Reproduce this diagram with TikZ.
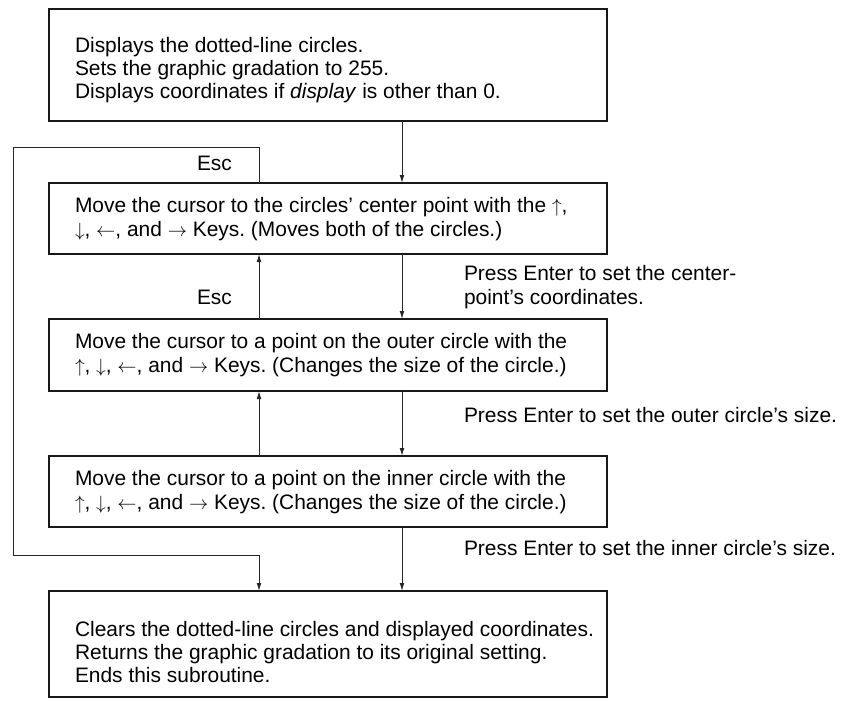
\documentclass[tikz,border=0pt]{standalone}
\usepackage{fontspec}
\setmainfont{Liberation Sans}
\usetikzlibrary{arrows.meta}
\frenchspacing

\begin{document}
\begin{tikzpicture}[x=0.75pt,y=-0.75pt,
  every node/.style={font=\fontsize{15.7pt}{17.5pt}\selectfont},
  stepbox/.style={draw=black!90, line width=0.8pt, anchor=north west, outer sep=0pt,
    inner sep=0pt, minimum width=418.5pt},
  steptext/.style={anchor=west, inner sep=0pt, outer sep=0pt, align=left},
  lbl/.style={inner sep=0pt, outer sep=0pt},
  flow/.style={draw=black!85, line width=0.75pt, -{Latex[length=6pt,width=3.6pt]}}]

\useasboundingbox (0,0) rectangle (849,700);

% process steps: frames
\node[stepbox, minimum height=84pt]    (init)   at (49,9)   {};
\node[stepbox, minimum height=53.25pt] (center) at (49,183) {};
\node[stepbox, minimum height=54pt]    (outer)  at (49,319) {};
\node[stepbox, minimum height=53.25pt] (inner)  at (49,456) {};
\node[stepbox, minimum height=79.5pt]  (finish) at (49,591) {};

% process steps: descriptions
\node[steptext] (initText) at (75,70)
  {Displays the dotted-line circles.\\
   Sets the graphic gradation to 255.\\
   Displays coordinates if \textit{display} is other than 0.};
\node[steptext] (centerText) at (75,219)
  {Move the cursor to the circles' center point with the $\uparrow$,\\
   $\downarrow$, $\leftarrow$, and $\rightarrow$ Keys. (Moves both of the circles.)};
\node[steptext] (outerText) at (75,355)
  {Move the cursor to a point on the outer circle with the\\
   $\uparrow$, $\downarrow$, $\leftarrow$, and $\rightarrow$ Keys. (Changes the size of the circle.)};
\node[steptext] (innerText) at (75,492)
  {Move the cursor to a point on the inner circle with the\\
   $\uparrow$, $\downarrow$, $\leftarrow$, and $\rightarrow$ Keys. (Changes the size of the circle.)};
\node[steptext] (finishText) at (75,652)
  {Clears the dotted-line circles and displayed coordinates.\\
   Returns the graphic gradation to its original setting.\\
   Ends this subroutine.};

% columns of the connectors
\coordinate (main) at (402,0);
\coordinate (back) at (259,0);
\coordinate (loopTop) at (13,147);
\coordinate (loopBot) at (13,555);

% forward flow
\draw[flow] (init.south -| main) -- (center.north -| main);
\draw[flow] (center.south -| main) -- (outer.north -| main);
\draw[flow] (outer.south -| main) -- (inner.north -| main);
\draw[flow] (inner.south -| main) -- (finish.north -| main);

% going back
\draw[flow] (outer.north -| back) -- (center.south -| back);
\draw[flow] (inner.north -| back) -- (outer.south -| back);
\draw[flow] (center.north -| back) |- (loopTop) -- (loopBot) -| (finish.north -| back);

% connector labels
\node[lbl, anchor=west] (escA) at (197,163) {Esc};
\node[lbl, anchor=west] (escB) at (197,297) {Esc};
\node[lbl, anchor=west, align=left] (setC) at (464,287)
  {Press Enter to set the center-\\point's coordinates.};
\node[lbl, anchor=west] (setO) at (464,415) {Press Enter to set the outer circle's size.};
\node[lbl, anchor=west] (setI) at (464,548) {Press Enter to set the inner circle's size.};
\end{tikzpicture}
\end{document}
